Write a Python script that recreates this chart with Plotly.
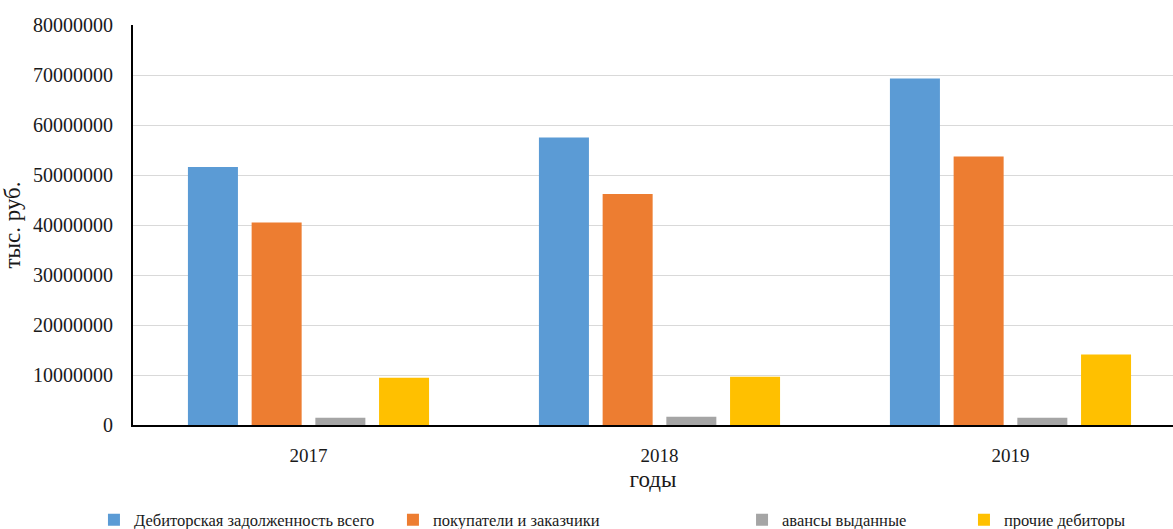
import plotly.graph_objects as go

years = ["2017", "2018", "2019"]
series_names = [
    "Дебиторская задолженность всего",
    "покупатели и заказчики",
    "авансы выданные",
    "прочие дебиторы",
]
total_debt = [51600000, 57500000, 69300000]
buyers = [40500000, 46200000, 53700000]
advances = [1460000, 1670000, 1460000]
other_debtors = [9470000, 9670000, 14100000]
y_ticks = [0, 10000000, 20000000, 30000000, 40000000, 50000000, 60000000, 70000000, 80000000]

colors = ["#5B9BD5", "#ED7D31", "#A5A5A5", "#FFC000"]
values = [total_debt, buyers, advances, other_debtors]
legend_ids = ["legend", "legend2", "legend3", "legend4"]
legend_x = [0.0801, 0.3350, 0.6326, 0.8218]

FONT = "Liberation Serif"
TXT = "#1a1a1a"

fig = go.Figure()
for name, vals, col, lid in zip(series_names, values, colors, legend_ids):
    fig.add_trace(go.Bar(
        x=years, y=vals, name=name, legend=lid, showlegend=True,
        marker=dict(color=col, line=dict(width=0)),
    ))

leg_common = dict(orientation="h", xref="container", yref="container",
                  yanchor="middle", y=0.017, xanchor="left",
                  font=dict(family=FONT, size=16.5, color=TXT),
                  bgcolor="rgba(0,0,0,0)", borderwidth=0)

fig.update_layout(
    width=1173, height=529,
    showlegend=True,
    margin=dict(l=133, r=0, t=25, b=104),
    paper_bgcolor="white", plot_bgcolor="white",
    barmode="group", bargap=0.274, bargroupgap=0.215,
    font=dict(family=FONT, size=19, color=TXT),
    legend=dict(x=legend_x[0], **leg_common),
    legend2=dict(x=legend_x[1], **leg_common),
    legend3=dict(x=legend_x[2], **leg_common),
    legend4=dict(x=legend_x[3], **leg_common),
    xaxis=dict(
        type="category", range=[-0.5, 2.463],
        showline=True, linecolor="black", linewidth=2,
        ticks="", ticklabelstandoff=12,
        tickfont=dict(family=FONT, size=19, color=TXT),
        title=dict(text="годы", font=dict(family=FONT, size=23, color=TXT), standoff=6),
        showgrid=False, zeroline=False,
    ),
    yaxis=dict(
        range=[0, 80000000], tickvals=y_ticks, ticktext=[str(v) for v in y_ticks],
        showline=True, linecolor="black", linewidth=2,
        ticks="", ticklabelstandoff=14,
        tickfont=dict(family=FONT, size=20, color=TXT),
        showgrid=True, gridcolor="#D9D9D9", gridwidth=1,
        zeroline=False,
        title=dict(text="тыс. руб.", font=dict(family=FONT, size=23, color=TXT), standoff=6),
    ),
)

fig.write_html("out.html")
